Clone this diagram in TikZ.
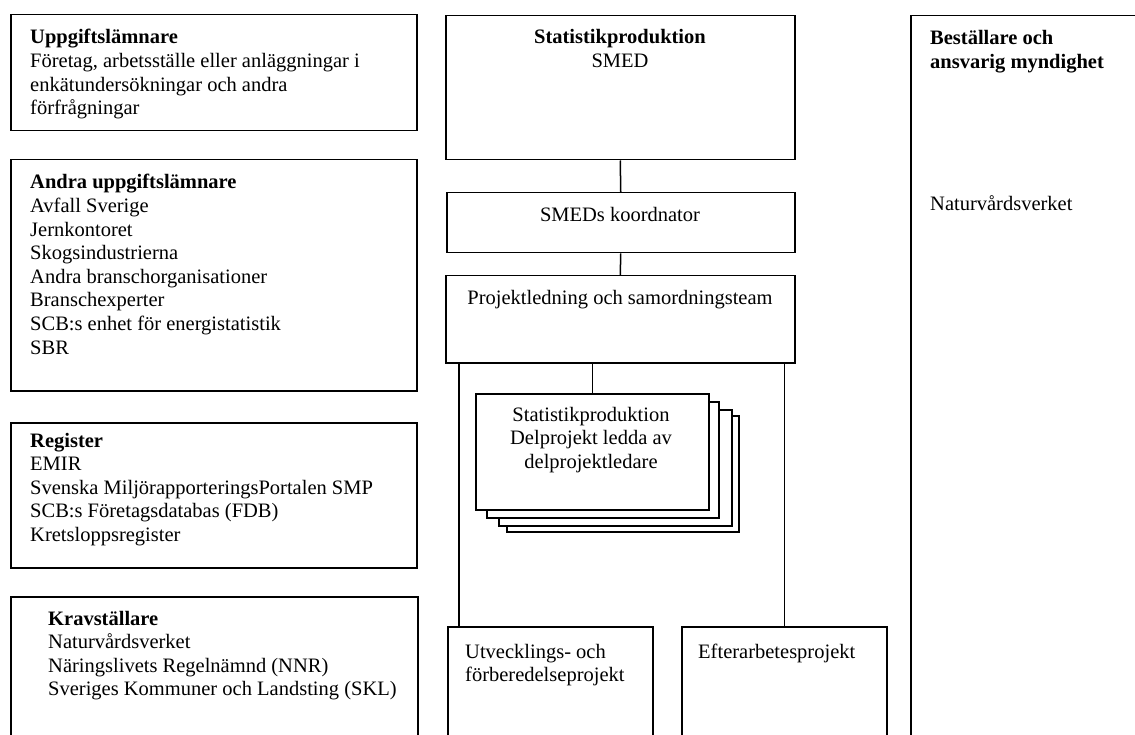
\documentclass[tikz,border=0pt]{standalone}
\usepackage{fontspec}
\setmainfont{Liberation Serif}
\usetikzlibrary{calc}
\newcommand{\txtl}[1]{\begin{tabular}[t]{@{}l@{}}#1\end{tabular}}
\newcommand{\txtc}[1]{\begin{tabular}[t]{@{}c@{}}#1\end{tabular}}
\begin{document}
\begin{tikzpicture}[x=1pt,y=-1pt,
  box/.style={draw, line width=1.5pt, fill=white, inner sep=0pt, anchor=north west},
  txt/.style={inner sep=0pt, anchor=base west, font=\fontsize{20.5}{23.6}\selectfont},
  ctxt/.style={inner sep=0pt, anchor=base, font=\fontsize{20.5}{23.6}\selectfont},
  conn/.style={line width=1.5pt}]
\useasboundingbox (0,0) rectangle (1135,735);
% left column
\node[box, minimum width=406pt, minimum height=116pt] (b1) at (10,14) {};
\node[box, minimum width=406pt, minimum height=231pt] (b2) at (10,159) {};
\node[box, minimum width=406pt, minimum height=145pt] (b3) at (10,422) {};
\node[box, minimum width=407pt, minimum height=160pt] (b4) at (10,596) {};
% centre column
\node[box, minimum width=349pt, minimum height=144pt] (s1) at (445,15) {};
\node[box, minimum width=348pt, minimum height=60pt] (s2) at (446,192) {};
\node[box, minimum width=349pt, minimum height=87pt] (s3) at (445,275) {};
\node[box, minimum width=232pt, minimum height=116pt] (stk4) at (506,415) {};
\node[box, minimum width=233pt, minimum height=116pt] (stk3) at (498,409) {};
\node[box, minimum width=232pt, minimum height=116pt] (stk2) at (486,401) {};
\node[box, minimum width=233pt, minimum height=116pt] (stk) at (475,393) {};
\node[box, minimum width=205pt, minimum height=130pt] (u) at (447,626) {};
\node[box, minimum width=205pt, minimum height=130pt] (e) at (681,626) {};
% right column
\node[box, minimum width=240pt, minimum height=740pt] (b5) at (910,15) {};
% connectors
\coordinate (uc) at ($(u.north west)+(12,0)$);
\draw[conn] (s1.south) -- (s2.north);
\draw[conn] (s2.south) -- (s3.north);
\draw[conn] (s3.south -| stk.north) -- (stk.north);
\draw[conn] (s3.south -| uc) -- (uc);
\draw[conn] (s3.south -| e.north) -- (e.north);
% texts
\node[txt] (t1) at (30,44) {\txtl{\textbf{Uppgiftslämnare}\\Företag, arbetsställe eller anläggningar i\\enkätundersökningar och andra\\förfrågningar}};
\node[txt] (t2) at (30,189) {\txtl{\textbf{Andra uppgiftslämnare}\\Avfall Sverige\\Jernkontoret\\Skogsindustrierna\\Andra branschorganisationer\\Branschexperter\\SCB:s enhet för energistatistik\\SBR}};
\node[txt] (t3) at (30,447) {\txtl{\textbf{Register}\\EMIR\\Svenska MiljörapporteringsPortalen SMP\\SCB:s Företagsdatabas (FDB)\\Kretsloppsregister}};
\node[txt] (t4) at (48,625) {\txtl{\textbf{Kravställare}\\Naturvårdsverket\\Näringslivets Regelnämnd (NNR)\\Sveriges Kommuner och Landsting (SKL)}};
\node[ctxt] (ts1) at (620,44) {\txtc{\textbf{Statistikproduktion}\\SMED}};
\node[ctxt] (ts2) at (620,222) {SMEDs koordnator};
\node[ctxt] (ts3) at (620,305) {Projektledning och samordningsteam};
\node[ctxt] (tstk) at (591,421) {\txtc{Statistikproduktion\\Delprojekt ledda av\\delprojektledare}};
\node[txt] (tu) at (465,658) {\txtl{Utvecklings- och\\förberedelseprojekt}};
\node[txt] (te) at (698,658) {Efterarbetesprojekt};
\node[txt] (t5) at (930,45) {\txtl{\textbf{Beställare och}\\\textbf{ansvarig myndighet}}};
\node[txt] (t5b) at (930,211) {Naturvårdsverket};
\end{tikzpicture}
\end{document}
